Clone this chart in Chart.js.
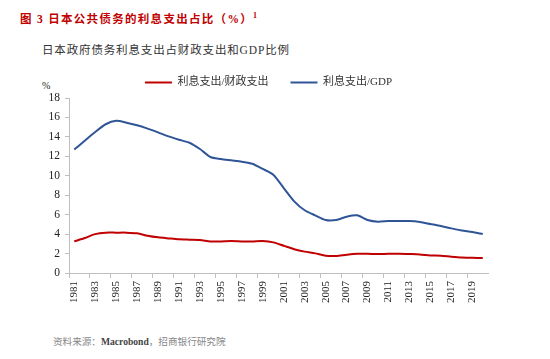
<!DOCTYPE html>
<html>
<head>
<meta charset="utf-8">
<script src="https://cdn.jsdelivr.net/npm/chart.js@4.4.1/dist/chart.umd.min.js"></script>
<style>
  html, body { margin: 0; padding: 0; background: #fff; }
  body { width: 550px; height: 359px; position: relative; overflow: hidden;
         font-family: "Liberation Serif", "Noto Sans CJK SC", serif; }
  .abs { position: absolute; white-space: nowrap; }
  #title { left: 20px; top: 10px; font-size: 11.5px; font-weight: bold; color: #c00000; letter-spacing: 1.3px; }
  #title sup { font-size: 8px; vertical-align: 5px; }
  #subtitle { left: 42px; top: 41px; font-size: 11.5px; color: #333; letter-spacing: 0.85px; }
  #unit { left: 42px; top: 80px; font-size: 10px; color: #222; }
  #source { left: 53px; top: 334px; font-size: 9.6px; color: #888; }
  #source b { color: #444; font-weight: bold; }
  #wrap { position: absolute; left: 0; top: 55px; width: 550px; height: 261px; }
</style>
</head>
<body>
<div id="title" class="abs">图&nbsp;3&nbsp;日本公共债务的利息支出占比（%）<sup>1</sup></div>
<div id="subtitle" class="abs">日本政府债务利息支出占财政支出和GDP比例</div>
<div id="unit" class="abs">%</div>
<div id="source" class="abs">资料来源：<b>Macrobond</b>，招商银行研究院</div>
<div id="wrap"><canvas id="c"></canvas></div>
<script>
const years = [];
for (let y = 1981; y <= 2020; y++) years.push(String(y));

const interestToSpending = [
  3.25, 3.6, 4.0, 4.15, 4.15, 4.15, 4.08, 3.84, 3.67, 3.56,
  3.46, 3.43, 3.4, 3.25, 3.25, 3.29, 3.25, 3.25, 3.29, 3.15,
  2.8, 2.45, 2.2, 2.02, 1.78, 1.75, 1.88, 1.98, 1.98, 1.95,
  1.98, 1.98, 1.95, 1.91, 1.81, 1.78, 1.68, 1.6, 1.57, 1.54
];
const interestToGDP = [
  12.7, 13.6, 14.5, 15.3, 15.65, 15.46, 15.19, 14.85, 14.47, 14.05,
  13.71, 13.4, 12.75, 11.93, 11.73, 11.59, 11.45, 11.24, 10.7, 10.11,
  8.74, 7.37, 6.45, 5.93, 5.45, 5.45, 5.79, 5.93, 5.45, 5.28,
  5.35, 5.35, 5.35, 5.25, 5.04, 4.83, 4.59, 4.38, 4.22, 4.01
];
const seriesNames = ['利息支出/财政支出', '利息支出/GDP'];
const yTicks = [0, 2, 4, 6, 8, 10, 12, 14, 16, 18];

const RED = '#c00000';
const BLUE = '#2f5597';
const AXIS = '#bfbfbf';
const FONT = '"Liberation Serif", "Noto Sans CJK SC", serif';

new Chart(document.getElementById('c'), {
  type: 'line',
  data: {
    labels: years,
    datasets: [
      { label: seriesNames[0], data: interestToSpending, borderColor: RED, backgroundColor: RED,
        borderWidth: 2, pointRadius: 0, tension: 0.25, pointStyle: 'line' },
      { label: seriesNames[1], data: interestToGDP, borderColor: BLUE, backgroundColor: BLUE,
        borderWidth: 2, pointRadius: 0, tension: 0.25, pointStyle: 'line' }
    ]
  },
  options: {
    responsive: true,
    maintainAspectRatio: false,
    animation: false,
    layout: { padding: { left: 49, right: 62, top: 0, bottom: 0 } },
    plugins: {
      tooltip: { enabled: false },
      legend: {
        display: true,
        position: 'top',
        labels: {
          usePointStyle: true,
          pointStyleWidth: 27,
          boxHeight: 11,
          padding: 22,
          color: '#333',
          font: { family: FONT, size: 11 }
        }
      }
    },
    scales: {
      x: {
        type: 'category',
        offset: true,
        afterFit: (s) => { s.height = 43; },
        border: { display: true, color: AXIS, width: 1 },
        grid: {
          offset: true,
          drawOnChartArea: false,
          drawTicks: true,
          tickLength: 5,
          tickColor: (ctx) => (ctx.index % 2 === 0 ? AXIS : 'rgba(0,0,0,0)')
        },
        ticks: {
          autoSkip: false,
          maxRotation: 90,
          minRotation: 90,
          padding: 3,
          color: '#222',
          font: { family: FONT, size: 11 },
          callback: function (value, index) { return index % 2 === 0 ? this.getLabelForValue(value) : ''; }
        }
      },
      y: {
        min: 0,
        max: 18,
        afterFit: (s) => { s.width = 20; },
        afterBuildTicks: (s) => { s.ticks = yTicks.map(v => ({ value: v })); },
        border: { display: true, color: AXIS, width: 1 },
        grid: { drawOnChartArea: false, drawTicks: true, tickLength: 4, tickColor: AXIS },
        ticks: {
          padding: 5,
          color: '#222',
          font: { family: FONT, size: 11.5 }
        }
      }
    }
  }
});
</script>
</body>
</html>
